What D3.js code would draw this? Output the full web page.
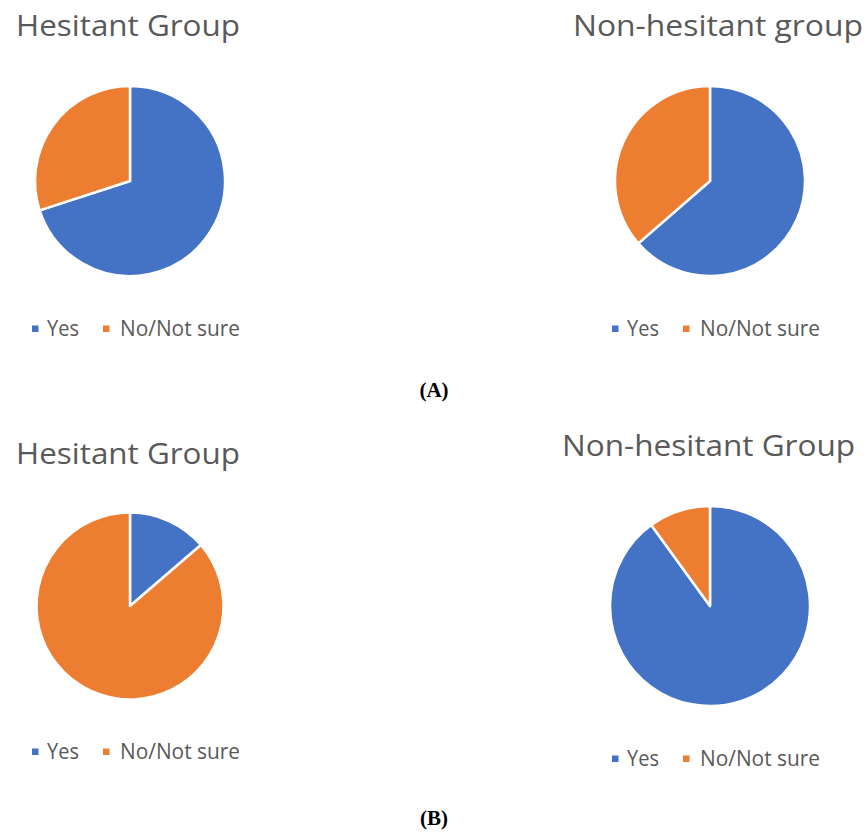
<!DOCTYPE html>
<html>
<head>
<meta charset="utf-8">
<script src="https://cdn.jsdelivr.net/npm/d3@7"></script>
<style>
  html, body { margin: 0; padding: 0; background: #fff; }
  svg { display: block; }
</style>
</head>
<body>
<svg id="chart" width="868" height="832"></svg>
<script>
// ---- data ----
const categories = ["Yes", "No/Not sure"];
const chartTitles = ["Hesitant Group", "Non-hesitant group", "Hesitant Group", "Non-hesitant Group"];
const hesitantA = [70, 30];
const nonHesitantA = [63.6, 36.4];
const hesitantB = [13.7, 86.3];
const nonHesitantB = [90, 10];
const panelLabels = ["(A)", "(B)"];
const colors = ["#4472C4", "#ED7D31"];

// ---- layout (positions only) ----
const charts = [
  { title: chartTitles[0], values: hesitantA,    cx: 130, cy: 181, r: 95,   tx: 16,  ty: 36,  tw: 224, ly: 336, lx: 32 },
  { title: chartTitles[1], values: nonHesitantA, cx: 710, cy: 181, r: 95,   tx: 573, ty: 36,  tw: 290, ly: 336, lx: 612 },
  { title: chartTitles[2], values: hesitantB,    cx: 130, cy: 606, r: 93.5, tx: 16,  ty: 464, tw: 224, ly: 759, lx: 32 },
  { title: chartTitles[3], values: nonHesitantB, cx: 710, cy: 606, r: 100,  tx: 562, ty: 456, tw: 293, ly: 766, lx: 612 }
];

const svg = d3.select("#chart");
const color = d3.scaleOrdinal().domain(categories).range(colors);
const pie = d3.pie().sort(null).value(d => d.value).startAngle(0).endAngle(2 * Math.PI);
const font = "'Open Sans', 'Noto Sans', sans-serif";

charts.forEach(c => {
  const g = svg.append("g");
  // title
  g.append("text")
    .attr("x", c.tx).attr("y", c.ty)
    .attr("font-family", font).attr("font-size", 30)
    .attr("fill", "#595959")
    .attr("textLength", c.tw).attr("lengthAdjust", "spacingAndGlyphs")
    .text(c.title);

  // pie
  const arc = d3.arc().innerRadius(0).outerRadius(c.r);
  const data = categories.map((k, i) => ({ key: k, value: c.values[i] }));
  g.append("g").attr("transform", `translate(${c.cx},${c.cy})`)
    .selectAll("path").data(pie(data)).join("path")
    .attr("d", arc)
    .attr("fill", d => color(d.data.key))
    .attr("stroke", "#fff").attr("stroke-width", 2.5).attr("stroke-linejoin", "round");

  // legend
  const squareX = [0, 71];
  const textX = [15, 88];
  const textWidths = [32, 120];
  const lg = g.append("g").attr("transform", `translate(${c.lx},${c.ly})`);
  categories.forEach((k, i) => {
    lg.append("rect")
      .attr("x", squareX[i]).attr("y", -10.5)
      .attr("width", 6.5).attr("height", 6.5)
      .attr("fill", color(k));
    lg.append("text")
      .attr("x", textX[i]).attr("y", 0)
      .attr("font-family", font).attr("font-size", 22)
      .attr("fill", "#595959")
      .attr("textLength", textWidths[i]).attr("lengthAdjust", "spacingAndGlyphs")
      .text(k);
  });
});

// panel labels
const panelY = [397, 825];
panelLabels.forEach((t, i) => {
  svg.append("text")
    .attr("x", 434).attr("y", panelY[i])
    .attr("text-anchor", "middle")
    .attr("font-family", "'Liberation Serif', 'DejaVu Serif', serif")
    .attr("font-size", 21).attr("font-weight", "bold")
    .attr("fill", "#000")
    .text(t);
});
</script>
</body>
</html>
